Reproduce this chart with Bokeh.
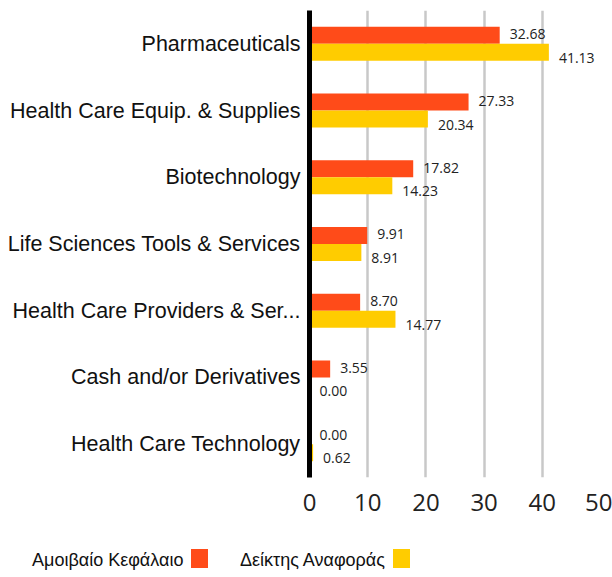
from bokeh.plotting import figure
from bokeh.models import ColumnDataSource, FactorRange, Range1d, FixedTicker, Div
from bokeh.layouts import column
from bokeh.transform import dodge
from bokeh.core.properties import value
from bokeh.embed import file_html
from bokeh.resources import INLINE

categories = ["Pharmaceuticals", "Health Care Equip. & Supplies", "Biotechnology",
              "Life Sciences Tools & Services", "Health Care Providers & Ser...",
              "Cash and/or Derivatives", "Health Care Technology"]
fund = [32.68, 27.33, 17.82, 9.91, 8.70, 3.55, 0.00]
benchmark = [41.13, 20.34, 14.23, 8.91, 14.77, 0.00, 0.62]
x_ticks = [0, 10, 20, 30, 40, 50]
series_names = ["Αμοιβαίο Κεφάλαιο", "Δείκτης Αναφοράς"]
colors = ["#FF4B19", "#FFCC00"]

src = ColumnDataSource(dict(
    cat=categories, fund=fund, bench=benchmark,
    fund_lbl=[f"{v:.2f}" for v in fund],
    bench_lbl=[f"{v:.2f}" for v in benchmark],
))

p = figure(y_range=FactorRange(factors=categories[::-1]), x_range=Range1d(0, 50),
           frame_width=291, frame_height=467, output_backend="svg", toolbar_location=None,
           min_border_left=309, min_border_right=12, min_border_top=10, min_border_bottom=55)

p.hbar(y=dodge("cat", 0.1275, range=p.y_range), right="fund", left=0, height=0.255,
       source=src, fill_color=colors[0], line_color=None)
p.hbar(y=dodge("cat", -0.1275, range=p.y_range), right="bench", left=0, height=0.255,
       source=src, fill_color=colors[1], line_color=None)

p.text(x="fund", y=dodge("cat", 0.143, range=p.y_range), text="fund_lbl", source=src,
       x_offset=10, text_align="left", text_baseline="middle",
       text_font=value("Open Sans"), text_font_size="14px", text_color="#222222")
p.text(x="bench", y=dodge("cat", -0.210, range=p.y_range), text="bench_lbl", source=src,
       x_offset=10, text_align="left", text_baseline="middle",
       text_font=value("Open Sans"), text_font_size="14px", text_color="#222222")

p.outline_line_color = None
p.ygrid.grid_line_color = None
p.xgrid.ticker = FixedTicker(ticks=x_ticks)
p.xgrid.grid_line_color = "#c8c8c8"
p.xgrid.grid_line_width = 2.5

p.xaxis.ticker = FixedTicker(ticks=x_ticks)
p.xaxis.axis_line_color = None
p.xaxis.major_tick_line_color = None
p.xaxis.minor_tick_line_color = None
p.xaxis.major_label_standoff = 10
p.xaxis.major_label_text_font = "Open Sans"
p.xaxis.major_label_text_font_size = "24px"
p.xaxis.major_label_text_color = "#222222"

p.yaxis.axis_line_color = "black"
p.yaxis.axis_line_width = 5
p.yaxis.major_tick_line_color = None
p.yaxis.minor_tick_line_color = None
p.yaxis.major_label_standoff = 3
p.yaxis.major_label_text_font = "Liberation Sans"
p.yaxis.major_label_text_font_size = "21.5px"
p.yaxis.major_label_text_color = "#111111"

# legend row below the chart: each series name followed by its colour swatch
text_left = [32, 240]
swatch_left = [191, 393]
parts = []
for name, color, tl, sl in zip(series_names, colors, text_left, swatch_left):
    parts.append(f'<span style="position:absolute;left:{tl}px;top:16px;line-height:24px;'
                 f'white-space:nowrap;">{name}</span>')
    parts.append(f'<span style="position:absolute;left:{sl}px;top:16.5px;width:17px;'
                 f'height:19px;background:{color};"></span>')
legend_html = ('<div style="position:relative;width:604px;height:45px;'
               "font-family:'Liberation Sans',Arial,sans-serif;font-size:18px;color:#111111;\">"
               + "".join(parts) + "</div>")
legend_div = Div(text=legend_html, width=604, height=45, margin=(0, 0, 0, 0))

layout = column(p, legend_div, spacing=0)
open("out.html", "w").write(file_html(layout, INLINE))
